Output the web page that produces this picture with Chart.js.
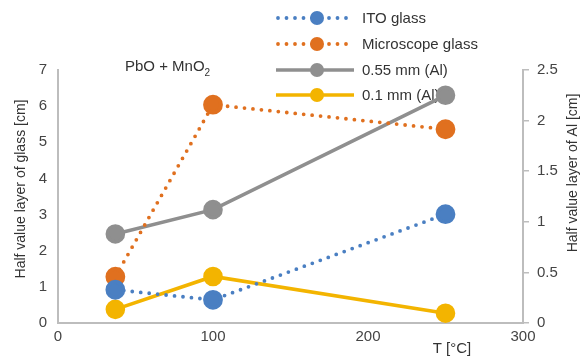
<!DOCTYPE html>
<html><head><meta charset="utf-8">
<script src="https://cdn.jsdelivr.net/npm/chart.js@4"></script>
<style>html,body{margin:0;padding:0;background:#fff}#wrap{width:587px;height:358px}</style>
</head><body><div id="wrap"><canvas id="c" width="587" height="358"></canvas></div>
<script>
const temps = [37, 100, 250];
const itoGlass = [0.92, 0.64, 3.01];
const itoErr = [0.12, 0.12, 0.1];
const microGlass = [1.28, 6.04, 5.36];
const microErr = [0.12, 0.12, 0.08];
const al055 = [0.88, 1.12, 2.25];
const al055Err = [0.02, 0.02, 0.02];
const al01 = [0.135, 0.46, 0.097];
const al01Err = [0.02, 0.02, 0.01];
const xTicks = [0, 100, 200, 300];
const seriesNames = ['ITO glass', 'Microscope glass', '0.55 mm (Al)', '0.1 mm (Al)'];

const FONT = '"Liberation Sans", Arial, sans-serif';
const AXIS = '#bdbdbd';
const colors = ['#4a7fc2', '#e0701f', '#8f8f8f', '#f3b400'];

function pts(xs, ys){ return xs.map((x,i)=>({x:x, y:ys[i]})); }

const errs = [itoErr, microErr, al055Err, al01Err];

const decor = {
  id:'decor',
  beforeDatasetsDraw(chart){
    const ctx = chart.ctx;
    chart.data.datasets.forEach((ds, di)=>{
      const ys = chart.scales[ds.yAxisID];
      const xs = chart.scales.x;
      ctx.save();
      ctx.strokeStyle = '#c8c8c8';
      ctx.lineWidth = 1;
      ds.data.forEach((p, i)=>{
        const e = errs[di][i];
        const px = xs.getPixelForValue(p.x);
        const y1 = ys.getPixelForValue(p.y + e);
        const y2 = ys.getPixelForValue(p.y - e);
        ctx.beginPath();
        ctx.moveTo(px, y1); ctx.lineTo(px, y2);
        ctx.moveTo(px-6, y1); ctx.lineTo(px+6, y1);
        ctx.moveTo(px-6, y2); ctx.lineTo(px+6, y2);
        ctx.stroke();
      });
      ctx.restore();
    });
    ctx.save();
    const rows = [18, 44, 70, 95];
    chart.data.datasets.forEach((ds, i)=>{
      const y = rows[i];
      ctx.strokeStyle = ds.borderColor;
      ctx.lineWidth = ds.borderWidth;
      ctx.lineCap = ds.borderCapStyle || 'butt';
      ctx.setLineDash(ds.borderDash || []);
      ctx.beginPath();
      ctx.moveTo(i < 2 ? 278 : 276, y); ctx.lineTo(354, y);
      ctx.stroke();
      ctx.setLineDash([]);
      ctx.fillStyle = ds.pointBackgroundColor;
      ctx.beginPath(); ctx.arc(317, y, 7, 0, Math.PI*2); ctx.fill();
      ctx.fillStyle = '#333';
      ctx.font = '15px ' + FONT;
      ctx.textAlign = 'left'; ctx.textBaseline = 'middle';
      ctx.fillText(ds.label, 362, y + 1);
    });
    ctx.restore();
  },
  afterDraw(chart){
    const ctx = chart.ctx;
    ctx.save();
    ctx.fillStyle = '#333';
    ctx.font = '15px ' + FONT;
    ctx.textBaseline = 'middle';
    ctx.textAlign = 'left';
    const t1 = 'PbO + MnO';
    const w1 = ctx.measureText(t1).width;
    const tx = 125;
    ctx.fillText(t1, tx, 67);
    ctx.font = '10px ' + FONT;
    ctx.fillText('2', tx + w1, 73);
    ctx.font = '14px ' + FONT;
    ctx.textAlign = 'center';
    ctx.save();
    ctx.translate(21, 189); ctx.rotate(-Math.PI/2);
    ctx.fillText('Half value layer of glass [cm]', 0, 0);
    ctx.restore();
    ctx.save();
    ctx.translate(573, 173); ctx.rotate(-Math.PI/2);
    ctx.fillText('Half value layer of Al [cm]', 0, 0);
    ctx.restore();
    ctx.font = '15px ' + FONT;
    ctx.fillText('T [°C]', 452, 349);
    ctx.restore();
  }
};

const dotted = { borderDash:[0, 8.5], borderCapStyle:'round', borderWidth:3.8 };
const solid = { borderWidth:3.6, borderCapStyle:'butt' };

new Chart(document.getElementById('c'), {
  type:'line',
  data:{
    datasets:[
      Object.assign({label:seriesNames[0], data:pts(temps, itoGlass), yAxisID:'y', borderColor:colors[0], pointBackgroundColor:colors[0], pointBorderColor:colors[0]}, dotted),
      Object.assign({label:seriesNames[1], data:pts(temps, microGlass), yAxisID:'y', borderColor:colors[1], pointBackgroundColor:colors[1], pointBorderColor:colors[1]}, dotted),
      Object.assign({label:seriesNames[2], data:pts(temps, al055), yAxisID:'y2', borderColor:colors[2], pointBackgroundColor:colors[2], pointBorderColor:colors[2]}, solid),
      Object.assign({label:seriesNames[3], data:pts(temps, al01), yAxisID:'y2', borderColor:colors[3], pointBackgroundColor:colors[3], pointBorderColor:colors[3]}, solid)
    ]
  },
  options:{
    responsive:false, animation:false, devicePixelRatio:1,
    layout:{padding:{top:70, left:0, right:0, bottom:0}},
    plugins:{legend:{display:false}, tooltip:{enabled:false}},
    elements:{point:{radius:8, borderWidth:0, hoverRadius:8}, line:{tension:0}},
    scales:{
      x:{type:'linear', min:0, max:300,
        afterBuildTicks(s){ s.ticks = xTicks.map(v=>({value:v})); },
        afterFit(s){ s.height = 35; },
        grid:{display:false, drawTicks:false},
        border:{color:AXIS, width:2},
        ticks:{color:'#444', font:{size:15, family:FONT}, padding:5, maxRotation:0}
      },
      y:{position:'left', min:0, max:7,
        afterFit(s){ s.width = 58; },
        grid:{display:false, drawTicks:false},
        border:{color:AXIS, width:2},
        ticks:{stepSize:1, color:'#444', font:{size:15, family:FONT}, padding:11}
      },
      y2:{position:'right', min:0, max:2.5,
        afterFit(s){ s.width = 64; },
        grid:{display:true, drawOnChartArea:false, drawTicks:true, tickLength:6, color:AXIS, lineWidth:1.5},
        border:{color:AXIS, width:2},
        ticks:{stepSize:0.5, color:'#444', font:{size:15, family:FONT}, padding:8,
          callback:(v)=>String(v)}
      }
    }
  },
  plugins:[decor]
});
</script></body></html>
